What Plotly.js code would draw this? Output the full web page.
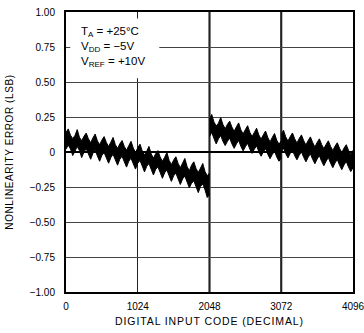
<!DOCTYPE html>
<html><head><meta charset="utf-8">
<script src="https://cdn.plot.ly/plotly-3.0.1.min.js"></script>
<style>
html,body{margin:0;padding:0;background:#fff;}
#chart{width:364px;height:333px;}
.xtitle{letter-spacing:0.9px;}
.ytitle{letter-spacing:0.6px;}
</style></head><body><div id="chart"></div>
<script>
// sampling grid (codes) and segment starts
const codeStep = 32;
const segStarts = [0, 2048, 3072];

// band envelopes (LSB)
const seg1Upper = [.140,.165,.120,.095,.118,.160,.105,.080,.112,.135,.095,.066,.100,.128,.080,.052,.085,.110,.068,.040,.070,.104,.052,.026,.058,.082,.040,.012,.045,.076,.028,-.004,.030,.056,.008,-.022,.006,.040,-.014,-.044,-.012,.010,-.036,-.066,-.038,-.004,-.060,-.090,-.058,-.034,-.082,-.112,-.080,-.046,-.104,-.134,-.094,-.070,-.118,-.146,-.115,-.082,-.140,-.170,-.150];
const seg1Lower = [.020,.050,.022,-.025,.005,.040,.010,-.040,.000,.024,-.014,-.052,-.010,.012,-.028,-.066,-.024,-.004,-.042,-.080,-.040,-.016,-.056,-.094,-.052,-.030,-.070,-.108,-.066,-.044,-.084,-.122,-.080,-.060,-.100,-.142,-.102,-.082,-.124,-.164,-.124,-.106,-.146,-.188,-.148,-.128,-.170,-.210,-.170,-.150,-.192,-.232,-.192,-.172,-.214,-.256,-.224,-.206,-.248,-.290,-.246,-.228,-.270,-.325,-.305];
const seg2Upper = [.235,.268,.214,.186,.206,.246,.196,.166,.198,.220,.178,.148,.180,.208,.158,.130,.160,.188,.140,.110,.140,.170,.122,.092,.122,.150,.104,.072,.104,.132,.084,.056,.080];
const seg2Lower = [.110,.140,.096,.058,.094,.118,.076,.046,.076,.100,.058,.026,.058,.082,.040,.008,.038,.062,.020,-.010,.020,.044,.002,-.030,.000,.024,-.016,-.048,-.018,.006,-.036,-.066,-.042];
const seg3Upper = [.124,.156,.108,.078,.110,.136,.094,.064,.096,.122,.082,.050,.082,.108,.068,.036,.068,.094,.054,.024,.054,.080,.040,.010,.042,.066,.026,-.004,.028,.052,.012,-.018,.012];
const seg3Lower = [-.004,.028,-.012,-.042,-.010,.014,-.026,-.056,-.024,.002,-.038,-.070,-.038,-.012,-.052,-.084,-.050,-.026,-.066,-.098,-.066,-.040,-.080,-.112,-.078,-.054,-.094,-.126,-.092,-.068,-.108,-.140,-.112];

// axis ticks
const xTickVals = [0, 1024, 2048, 3072, 4096];
const xTickText = ['0', '1024', '2048', '3072', '4096'];
const yTickVals = [1, 0.75, 0.5, 0.25, 0, -0.25, -0.5, -0.75, -1];
const yTickText = ['1.00', '0.75', '0.50', '0.25', '0', '\u22120.25', '\u22120.50', '\u22120.75', '\u22121.00'];
const heavyLines = [2048, 3072];

const segments = [[seg1Lower, seg1Upper], [seg2Lower, seg2Upper], [seg3Lower, seg3Upper]];
const traces = [];
segments.forEach(([lo, up], s) => {
  const codes = lo.map((_, i) => segStarts[s] + i * codeStep);
  traces.push({x: codes, y: lo, mode: 'lines', line: {color: '#000', width: 1}, hoverinfo: 'skip', showlegend: false});
  traces.push({x: codes, y: up, mode: 'lines', fill: 'tonexty', fillcolor: '#000', line: {color: '#000', width: 1}, hoverinfo: 'skip', showlegend: false});
});

const font = 'Liberation Sans, Arial, Helvetica, sans-serif';
const shapes = heavyLines.map(v => ({type: 'line', xref: 'x', yref: 'paper', x0: v, x1: v, y0: 0, y1: 1, line: {color: '#000', width: 2}, layer: 'below'}));
shapes.push({type: 'rect', xref: 'paper', yref: 'paper', x0: 0.015, x1: 0.325, y0: 0.763, y1: 0.977, fillcolor: '#fff', line: {width: 0}, layer: 'above'});

const layout = {
  width: 364, height: 333,
  margin: {l: 66, r: 11, t: 12, b: 41},
  paper_bgcolor: '#fff', plot_bgcolor: '#fff',
  showlegend: false,
  font: {family: font, color: '#000', size: 10},
  xaxis: {
    range: [0, 4096], tickmode: 'array', tickvals: xTickVals, ticktext: xTickText,
    showgrid: true, gridcolor: '#222', gridwidth: 1, zeroline: false,
    showline: true, mirror: true, linecolor: '#000', linewidth: 2, ticks: '',
    ticklabelstandoff: 4, ticklabeloverflow: 'allow',
    tickfont: {family: font, size: 10, color: '#000'},
    title: {text: 'DIGITAL INPUT CODE (DECIMAL)', font: {family: font, size: 10.5, color: '#000'}, standoff: 7},
    fixedrange: true
  },
  yaxis: {
    range: [-1, 1], tickmode: 'array', tickvals: yTickVals, ticktext: yTickText,
    showgrid: true, gridcolor: '#444', gridwidth: 1,
    zeroline: true, zerolinecolor: '#000', zerolinewidth: 1.5,
    showline: true, mirror: true, linecolor: '#000', linewidth: 2, ticks: '',
    ticklabelstandoff: 7, ticklabeloverflow: 'allow',
    tickfont: {family: font, size: 10, color: '#000'},
    title: {text: 'NONLINEARITY ERROR (LSB)', font: {family: font, size: 10, color: '#000'}, standoff: 14},
    fixedrange: true
  },
  shapes: shapes,
  annotations: [{
    xref: 'paper', yref: 'paper', x: 0.047, y: 0.96, xanchor: 'left', yanchor: 'top',
    showarrow: false, align: 'left',
    text: 'T<sub>A</sub> = +25°C<br>V<sub>DD</sub> = \u22125V<br>V<sub>REF</sub> = +10V',
    font: {family: font, size: 11.5, color: '#000'}
  }]
};

Plotly.newPlot('chart', traces, layout, {displayModeBar: false, staticPlot: true});
</script></body></html>
